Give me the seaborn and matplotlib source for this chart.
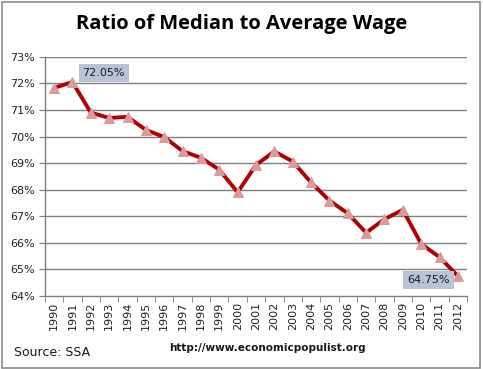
import pandas as pd
import matplotlib.pyplot as plt
import seaborn as sns
from matplotlib.patches import Rectangle
from matplotlib.ticker import FixedLocator, FuncFormatter

years = list(range(1990, 2013))
ratio = [71.83, 72.05, 70.90, 70.70, 70.74, 70.25, 69.98, 69.45, 69.20, 68.75,
         67.90, 68.93, 69.44, 69.06, 68.27, 67.59, 67.11, 66.38, 66.89, 67.24,
         65.96, 65.46, 64.75]

df = pd.DataFrame({"year": years, "ratio": ratio})

sns.set_style("white")
plt.rcParams['font.family'] = ['DejaVu Sans']

fig = plt.figure(figsize=(4.83, 3.69), dpi=100)
ax = fig.add_axes([0.093, 0.198, 0.874, 0.648])

# horizontal grid lines
for v in range(65, 74):
    ax.axhline(v, color="#7f7f7f", lw=1, zorder=0)

sns.lineplot(data=df, x="year", y="ratio", ax=ax, color="#b00000", lw=2.8,
             marker="^", markersize=7, markerfacecolor="#dc9a9a",
             markeredgecolor="#dc9a9a", zorder=3)

ax.set_xlim(1989.5, 2012.5)
ax.set_ylim(64, 73)
ax.set_xlabel("")
ax.set_ylabel("")
ax.set_xticks(years)
ax.set_xticklabels([str(y) for y in years], rotation=90, fontsize=8, color="#222222")
ax.xaxis.set_minor_locator(FixedLocator([y + 0.5 for y in range(1989, 2013)]))
ax.tick_params(axis="x", which="major", length=0, pad=4)
ax.tick_params(axis="x", which="minor", length=4, direction="out", color="#7f7f7f", bottom=True)
ax.set_yticks(range(64, 74))
ax.yaxis.set_major_formatter(FuncFormatter(lambda v, p: f"{v:.0f}%"))
ax.tick_params(axis="y", length=4, direction="out", color="#7f7f7f", left=True,
               labelsize=8, labelcolor="#222222")

for s in ["top", "right"]:
    ax.spines[s].set_visible(False)
for s in ["left", "bottom"]:
    ax.spines[s].set_color("#7f7f7f")
    ax.spines[s].set_linewidth(1)

# data labels
box = dict(boxstyle="square,pad=0.35", fc="#b8c3d8", ec="none")
ax.text(1992.7, 72.38, "72.05%", fontsize=8, color="#1a1a1a", ha="center", va="center", bbox=box)
ax.text(2010.4, 64.6, "64.75%", fontsize=8, color="#1a1a1a", ha="center", va="center", bbox=box)

fig.text(0.5, 0.935, "Ratio of Median to Average Wage", ha="center", va="center",
         fontsize=14.5, fontweight="bold", color="black", family=["Open Sans", "DejaVu Sans"])
fig.text(0.03, 0.045, "Source: SSA", ha="left", va="center", fontsize=9, color="#1a1a1a")
fig.text(0.553, 0.057, "http://www.economicpopulist.org", ha="center", va="center",
         fontsize=7.5, fontweight="bold", color="#1a1a1a")

fig.patches.append(Rectangle((0.004, 0.004), 0.99, 0.99, transform=fig.transFigure,
                             fill=False, ec="#8a8a8a", lw=1.2))

fig.savefig("out.png", dpi=100)
plt.close(fig)
